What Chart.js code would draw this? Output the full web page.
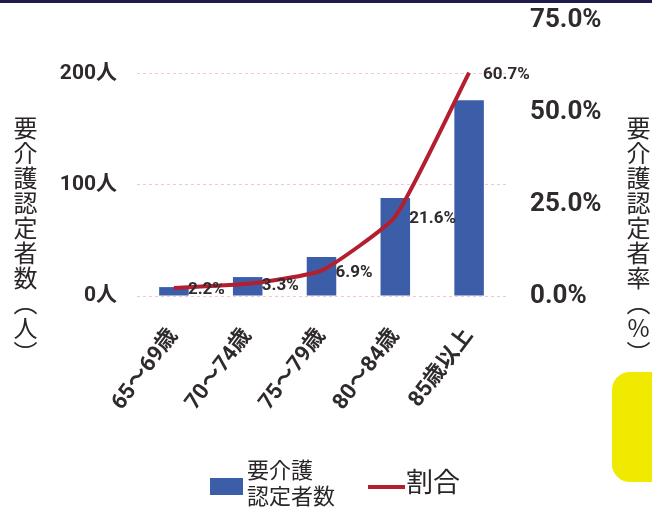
<!DOCTYPE html>
<html lang="ja">
<head>
<meta charset="utf-8">
<script src="https://cdn.jsdelivr.net/npm/chart.js@4/dist/chart.umd.min.js"></script>
<style>
  html, body { margin: 0; padding: 0; background: #fff; }
  body { width: 652px; height: 509px; position: relative; overflow: hidden; }
  #wrap { position: absolute; left: 0; top: 0; width: 652px; height: 509px; }
  .topbar { position: absolute; left: 0; top: 0; width: 652px; height: 3px; background: #1f1b4d; }
  .tab { position: absolute; left: 612px; top: 372px; width: 60px; height: 110px; background: #f0e900; border-radius: 18px; }
  .vtitle { position: absolute; writing-mode: vertical-rl; text-orientation: upright;
            font-family: "Noto Sans CJK JP", sans-serif; font-size: 24px; line-height: 1; color: #2a2528; letter-spacing: 1px; }
  .legend { position: absolute; font-family: "Noto Sans CJK JP", sans-serif; color: #2a2528; }
</style>
</head>
<body>
<div id="wrap"><canvas id="chart" width="652" height="509"></canvas></div>
<div class="topbar"></div>
<div class="tab"></div>
<div class="vtitle" style="left:13px; top:116px;">要介護認定者数（人）</div>
<div class="vtitle" style="left:626px; top:116px;">要介護認定者率（%）</div>
<div class="legend" style="left:210px; top:478px; width:33px; height:17px; background:#3c5ea8;"></div>
<div class="legend" style="left:247px; top:455px; font-size:22px; line-height:26px;">要介護<br>認定者数</div>
<div class="legend" style="left:368px; top:485px; width:37px; height:4px; background:#b41f2f;"></div>
<div class="legend" style="left:406px; top:466px; font-size:27px; line-height:30px;">割合</div>
<script>
const categories = ["65～69歳", "70～74歳", "75～79歳", "80～84歳", "85歳以上"];
const certifiedCount = [8, 17, 35, 88, 176];
const certifiedRate = [2.2, 3.3, 6.9, 21.6, 60.7];
const countTicks = [0, 100, 200];
const rateTicks = [0, 25, 50, 75];

const numFont = "Roboto, 'Noto Sans CJK JP', sans-serif";
const textColor = "#2f2a2e";

// labels for the line, drawn to the right of each point
const rateLabels = {
  id: "rateLabels",
  afterDatasetsDraw(chart) {
    const ctx = chart.ctx;
    const meta = chart.getDatasetMeta(1);
    ctx.save();
    ctx.font = "bold 17px " + numFont;
    ctx.fillStyle = textColor;
    ctx.textAlign = "left";
    ctx.textBaseline = "middle";
    meta.data.forEach((pt, i) => {
      ctx.fillText(certifiedRate[i].toFixed(1) + "%", pt.x + 14, pt.y + 2);
    });
    ctx.restore();
  }
};

new Chart(document.getElementById("chart"), {
  data: {
    labels: categories,
    datasets: [
      {
        type: "bar",
        label: "要介護認定者数",
        data: certifiedCount,
        yAxisID: "y",
        backgroundColor: "#3c5ea8",
        barPercentage: 0.4,
        categoryPercentage: 1.0,
        order: 2
      },
      {
        type: "line",
        label: "割合",
        data: certifiedRate,
        yAxisID: "y1",
        borderColor: "#b41f2f",
        borderWidth: 4,
        pointRadius: 0,
        tension: 0.15,
        fill: false,
        order: 1
      }
    ]
  },
  options: {
    responsive: false,
    animation: false,
    layout: { padding: { top: 20, left: 0, right: 0, bottom: 0 } },
    plugins: { legend: { display: false }, tooltip: { enabled: false } },
    scales: {
      x: {
        grid: { display: false, drawTicks: false },
        border: { display: false },
        ticks: {
          minRotation: 53, maxRotation: 53, padding: 28,
          color: textColor,
          font: { family: numFont, size: 22, weight: "bold" }
        },
        afterFit(scale) { scale.height = 213; scale.paddingLeft = 0; scale.paddingRight = 0; }
      },
      y: {
        position: "left",
        min: 0, max: 248,
        afterBuildTicks(scale) { scale.ticks = countTicks.map(v => ({ value: v })); },
        grid: { color: "#f0c9cf", lineWidth: 1, drawTicks: false },
        border: { display: false, dash: [3, 3] },
        ticks: {
          padding: 20, color: textColor,
          font: { family: numFont, size: 21, weight: "bold" },
          callback: v => v + "人"
        },
        afterFit(scale) { scale.width = 137; scale.paddingTop = 0; scale.paddingBottom = 0; }
      },
      y1: {
        position: "right",
        min: 0, max: 75,
        afterBuildTicks(scale) { scale.ticks = rateTicks.map(v => ({ value: v })); },
        grid: { display: false, drawTicks: false },
        border: { display: false },
        ticks: {
          padding: 24, color: textColor,
          font: { family: numFont, size: 26, weight: "bold" },
          callback: v => v.toFixed(1) + "%"
        },
        afterFit(scale) { scale.width = 146; scale.paddingTop = 0; scale.paddingBottom = 0; }
      }
    }
  },
  plugins: [rateLabels]
});
</script>
</body>
</html>
